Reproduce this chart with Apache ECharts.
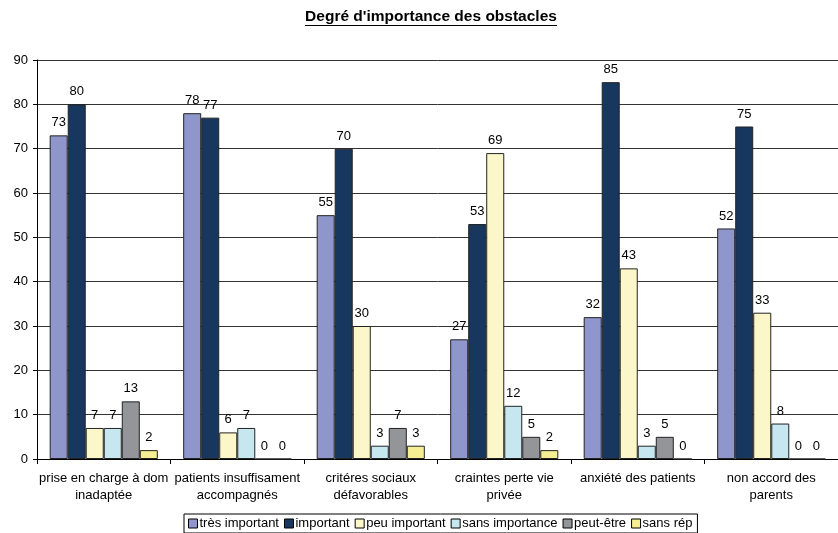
<!DOCTYPE html>
<html>
<head>
<meta charset="utf-8">
<script src="https://cdn.jsdelivr.net/npm/echarts@6/dist/echarts.min.js"></script>
<style>
  html, body { margin: 0; padding: 0; background: #fff; }
  #chart { width: 838px; height: 533px; }
</style>
</head>
<body>
<div id="chart"></div>
<script>
// Obstacles, split by the degree of importance respondents gave them
const categories = [
  "prise en charge à dom\ninadaptée",
  "patients insuffisament\naccompagnés",
  "critéres sociaux\ndéfavorables",
  "craintes perte vie\nprivée",
  "anxiété des patients",
  "non accord des\nparents"
];
const seriesNames = ["très important", "important", "peu important", "sans importance", "peut-être", "sans rép"];
const tresImportant  = [73, 78, 55, 27, 32, 52];
const important      = [80, 77, 70, 53, 85, 75];
const peuImportant   = [7, 6, 30, 69, 43, 33];
const sansImportance = [7, 7, 3, 12, 3, 8];
const peutEtre       = [13, 0, 7, 5, 5, 0];
const sansRep        = [2, 0, 3, 2, 0, 0];
const yTicks = { min: 0, max: 90, interval: 10 };

const colors = ["#8e96cc", "#17375e", "#fbf7c9", "#c6e7ef", "#939598", "#f5ee92"];
const values = [tresImportant, important, peuImportant, sansImportance, peutEtre, sansRep];
const font = "'Liberation Sans', Arial, sans-serif";

const chart = echarts.init(document.getElementById("chart"), null, { renderer: "canvas" });

chart.setOption({
  animation: false,
  backgroundColor: "#fff",
  textStyle: { fontFamily: font },
  graphic: [
    {
      // underlined chart title
      type: "text",
      x: 431,
      y: 9,
      style: {
        text: "Degré d'importance des obstacles",
        font: "bold 15.5px " + font,
        fill: "#000",
        align: "center",
        verticalAlign: "top"
      }
    },
    {
      type: "rect",
      shape: { x: 305, y: 25, width: 252, height: 1 },
      style: { fill: "#000" }
    }
  ],
  legend: {
    bottom: 0,
    left: 184,
    itemWidth: 9,
    itemHeight: 9,
    itemGap: 5,
    icon: "rect",
    borderColor: "#000",
    borderWidth: 1,
    padding: [3, 5, 3, 4],
    textStyle: { fontSize: 13, color: "#000", fontFamily: font, padding: [0, 0, 0, -3] },
    itemStyle: { borderColor: "#000", borderWidth: 1 },
    data: seriesNames
  },
  grid: { left: 37, right: 0, top: 60, bottom: 74, containLabel: false },
  xAxis: {
    type: "category",
    data: categories,
    axisLine: { show: true, lineStyle: { color: "#000", width: 1 } },
    axisTick: { show: true, length: 5, lineStyle: { color: "#000" } },
    axisLabel: { interval: 0, fontSize: 13, color: "#000", margin: 11, lineHeight: 17, fontFamily: font }
  },
  yAxis: {
    type: "value",
    min: yTicks.min,
    max: yTicks.max,
    interval: yTicks.interval,
    axisLine: { show: true, lineStyle: { color: "#000", width: 1 } },
    axisTick: { show: true, length: 4, lineStyle: { color: "#000" } },
    axisLabel: { fontSize: 13, color: "#000", margin: 9, fontFamily: font },
    splitLine: { show: true, lineStyle: { color: "#333", width: 1 } }
  },
  series: seriesNames.map((name, i) => ({
    name: name,
    type: "bar",
    data: values[i],
    barGap: "0%",
    barCategoryGap: "19%",
    itemStyle: { color: colors[i], borderColor: "#222", borderWidth: 1 },
    label: { show: true, position: "top", distance: 6, fontSize: 13, color: "#000", fontFamily: font }
  }))
});
</script>
</body>
</html>
